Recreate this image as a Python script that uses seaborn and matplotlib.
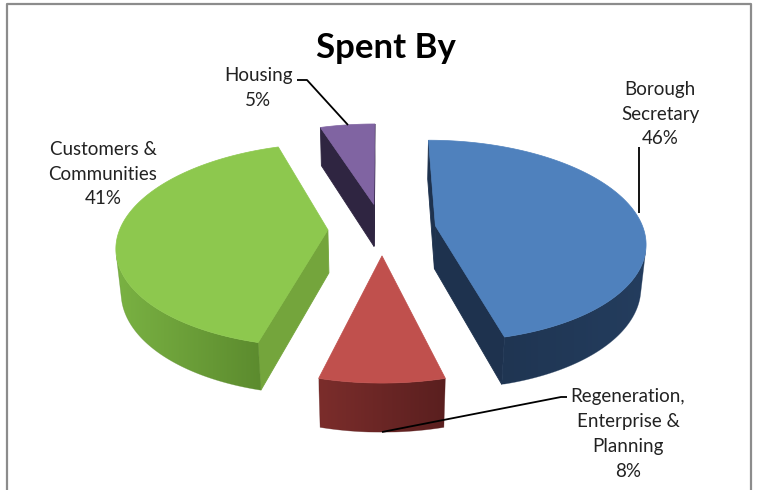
import numpy as np
import matplotlib
matplotlib.use("Agg")
import matplotlib.pyplot as plt
import seaborn as sns
from matplotlib.patches import Polygon
from matplotlib.colors import LinearSegmentedColormap

# ---------------- data ----------------
categories = ["Borough Secretary", "Regeneration, Enterprise & Planning",
              "Customers & Communities", "Housing"]
label_lines = ["Borough\nSecretary", "Regeneration,\nEnterprise &\nPlanning",
               "Customers &\nCommunities", "Housing"]
values = [46, 8, 41, 5]
title = "Spent By"

# ---------------- styles ----------------
sns.set_theme(style="white")
plt.rcParams['font.family'] = ['Lato', 'DejaVu Sans']

top_colors = sns.color_palette(["#4F81BD", "#C0504D", "#8DC84E", "#8064A2"])
wall_left = ["#1F3552", "#7B2D2B", "#7AB243", "#3A2D4E"]
wall_right = ["#243D5E", "#5A1F1F", "#5C8B2E", "#2E2440"]
radial_colors = ["#1E324E", "#6A2625", "#74A53C", "#2F2541"]

W, H = 757, 490
CX, CY = 382, 229
K = 208.0
ALPHA = np.radians(28.5)
DIST = 1 / 0.17
EXPLODE = 0.26
DEPTH = 0.24
sa, ca = np.sin(ALPHA), np.cos(ALPHA)
cam = np.array([0.0, -DIST * ca, DIST * sa])


def proj(p):
    p = np.asarray(p, float)
    X = p[..., 0]
    Y = p[..., 1] * sa + p[..., 2] * ca
    Z = DIST + p[..., 1] * ca - p[..., 2] * sa
    f = DIST / Z
    return np.stack([CX + K * X * f, CY - K * Y * f], axis=-1)


fig = plt.figure(figsize=(W / 100, H / 100), dpi=100)
ax = fig.add_axes([0, 0, 1, 1])
ax.set_xlim(0, W)
ax.set_ylim(H, 0)
ax.axis('off')

total = float(sum(values))
down = np.array([0, 0, -DEPTH])
slices = []
start = 0.0
for i, v in enumerate(values):
    sweep = 360.0 * v / total
    slices.append((i, start, start + sweep))
    start += sweep


def apex_v(s):
    m = np.radians((s[1] + s[2]) / 2)
    return np.cos(m)


for i, p1, p2 in sorted(slices, key=lambda s: -apex_v(s)):
    pm = np.radians((p1 + p2) / 2)
    off = EXPLODE * np.array([np.sin(pm), np.cos(pm), 0.0])
    a = np.radians(np.linspace(p1, p2, 200))
    rim = off + np.stack([np.sin(a), np.cos(a), np.zeros_like(a)], axis=-1)
    rim_b = rim + down
    z0 = 10 + i
    # radial walls
    for ang, sign in ((np.radians(p1), -1), (np.radians(p2), 1)):
        n = sign * np.array([np.cos(ang), -np.sin(ang), 0.0])
        if np.dot(n, cam - off) > 0:
            e = off + np.array([np.sin(ang), np.cos(ang), 0.0])
            quad = proj(np.array([off, e, e + down, off + down]))
            ax.add_patch(Polygon(quad, closed=True, facecolor=radial_colors[i],
                                 edgecolor=radial_colors[i], lw=0.6, zorder=z0))
    # outer wall
    normals = np.stack([np.sin(a), np.cos(a), np.zeros_like(a)], axis=-1)
    vis = np.einsum('ij,ij->i', normals, cam - rim) > 0
    if vis.sum() > 1:
        idx = np.where(vis)[0]
        ptsT = proj(rim[idx])
        ptsB = proj(rim_b[idx])
        poly = np.vstack([ptsT, ptsB[::-1]])
        patch = Polygon(poly, closed=True, facecolor='none', edgecolor='none', zorder=z0)
        ax.add_patch(patch)
        cmap = LinearSegmentedColormap.from_list("w%d" % i, [wall_left[i], wall_right[i]])
        x0, x1 = poly[:, 0].min(), poly[:, 0].max()
        y0, y1 = poly[:, 1].min(), poly[:, 1].max()
        grad = np.linspace(0, 1, 256)[None, :]
        im = ax.imshow(grad, extent=[x0, x1, y1, y0], cmap=cmap, aspect='auto',
                       zorder=z0, interpolation='bilinear')
        im.set_clip_path(patch)
        ax.add_patch(Polygon(poly, closed=True, facecolor='none',
                             edgecolor=wall_right[i], lw=0.4, zorder=z0 + 0.1, alpha=0.5))
    # top face
    top = proj(np.vstack([off[None, :], rim]))
    ax.add_patch(Polygon(top, closed=True, facecolor=top_colors[i],
                         edgecolor=top_colors[i], lw=0.5, zorder=z0 + 0.2))

ax.set_xlim(0, W)
ax.set_ylim(H, 0)

# ---------------- texts ----------------
ax.text(386, 58, title, ha='center', va='baseline', fontsize=25,
        fontweight='bold', color='black', zorder=30)

label_pos = [(660, 114), (628, 434), (103, 174), (258, 88)]
for i, v in enumerate(values):
    txt = f"{label_lines[i]}\n{v / total * 100:.0f}%"
    ax.text(label_pos[i][0], label_pos[i][1], txt, ha='center', va='center',
            fontsize=13.5, color='#222222', linespacing=1.55, zorder=30)

leaders = [
    [(639, 147), (639, 213)],
    [(567, 397), (561, 397), (382, 432)],
    None,
    [(297, 80), (307, 80), (348, 125)],
]
for ln in leaders:
    if ln:
        xs, ys = zip(*ln)
        ax.plot(xs, ys, color='black', lw=1.3, zorder=31, solid_capstyle='butt')

# chart frame
ax.plot([7, 7, 751, 751], [H + 5, 4, 4, H + 5], color='#8C8C8C', lw=1.6,
        zorder=40, clip_on=False)

fig.savefig("out.png", dpi=100)
